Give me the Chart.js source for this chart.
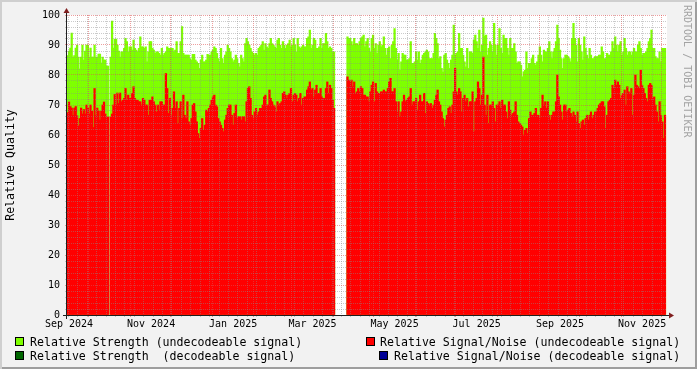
<!DOCTYPE html>
<html>
<head>
<meta charset="utf-8">
<script src="https://cdn.jsdelivr.net/npm/chart.js@4.4.0/dist/chart.umd.min.js"></script>
<style>
  body { margin: 0; background: #f2f2f2; }
  #wrap {
    position: relative; width: 697px; height: 369px; background: #f2f2f2;
    box-shadow: inset 2px 2px 0 #cfcfcf, inset -2px -2px 0 #9e9e9e;
    font-family: 'DejaVu Sans Mono', monospace;
  }
  #chart { position: absolute; left: 0; top: 0; }
  .lg { position: absolute; font-size: 11.6px; line-height: 14px; white-space: pre; color: #000; }
  .sw { position: absolute; width: 7px; height: 7px; border: 1px solid #000; }
  #wm {
    position: absolute; left: 682px; top: 5px; writing-mode: vertical-rl;
    font-size: 10px; line-height: 10px; color: #a3a3a3; white-space: pre;
  }
</style>
</head>
<body>
<div id="wrap">
  <canvas id="chart" width="697" height="369"></canvas>
  <div id="wm">RRDTOOL / TOBI OETIKER</div>
</div>
<script>
// one value per day, day 0 = 15 Sep 2024
const startDay = Date.UTC(2024, 8, 15);
const nDays = 446;

const monthAbbr = ['Jan', 'Feb', 'Mar', 'Apr', 'May', 'Jun', 'Jul', 'Aug', 'Sep', 'Oct', 'Nov', 'Dec'];
const xTickLabels = ['Sep 2024', 'Nov 2024', 'Jan 2025', 'Mar 2025', 'May 2025', 'Jul 2025', 'Sep 2025', 'Nov 2025'];

const seriesNames = [
  'Relative Strength (undecodeable signal)',
  'Relative Signal/Noise (undecodeable signal)',
  'Relative Strength  (decodeable signal)',
  'Relative Signal/Noise (decodeable signal)'
];
const seriesColors = ['#7fff00', '#ff0000', '#006600', '#000096'];

// Relative Strength (undecodeable)
const strength = [
  86.5, 88, 89, 94, 86, 86.5, 89, 90, 86, 82, 86, 90, 85, 88, 90, 90, 86, 89, 86, 86,
  90, 86, 86, 87, 87, 84, 86, 85, 85, 83, 83, null, 86, 98, 89, 92, 92, 90, 88, 86,
  87.7, 87.7, 88.9, 92.2, 91.1, 87.7, 89.4, 89.4, 88.3, 91.6, 88.9, 88.3, 87.7, 88.9, 92.7, 89.4, 89.4, 88.9, 89.4, 84.4,
  87.7, 91.1, 91.1, 88.9, 88.3, 87.2, 87.7, 87.7, 87.2, 86.6, 88.9, 86.6, 87.2, 87.7, 89.4, 88.9, 88.9, 88.9, 88.9, 87.7,
  88.3, 91.1, 87.2, 87.2, 91.1, 96.1, 87.2,
  86.6, 86.6, 86.6, 86.6, 85.5, 85, 86.9, 86.9, 85, 84.4, 83.9, 82.2, 85, 86.6, 84.4, 84.4, 85, 86.9, 86.6, 86.6,
  87.7, 88.3, 89.4, 88.9, 87.2, 85.5, 84.4, 88.9, 85.5, 83.9, 86.6, 87.7, 90, 88.9, 87.7, 85.5, 84.4, 85, 86.6, 85.5,
  83.9, 82.7, 86.6, 85.5, 84.4,
  90.5, 92.2, 91.1, 90, 88.9, 87.7, 87.2, 86.6, 87.2, 86.6, 88.9, 89.4, 90, 91.1, 88.3, 90.5, 89.4, 88.9, 90.5, 92.2,
  90.5, 90, 89.4, 88.9, 91.6, 92.2, 90, 88.9, 91.1, 90, 88.9, 90, 90.5, 91.6, 89.4, 90, 92.2, 90, 87.7, 92.2,
  89.4, 88.9, 89.4, 90, 89.4,
  89.4, 92.2, 92.7, 95, 88.9, 90, 92.2, 91.6, 88.9, 88.9, 89.4, 92.2, 88.9, 90.5, 90.5, 93.9, 91.1, 88.9, 89.4, 88.9,
  87.7, 87.7,
  null, null, null, null, null, null, null, null, null,
  92.7, 92.2, 92.2, 91.1, 90, 92.2, 90.5, 90.5, 90, 91.1, 92.2, 92.7, 93.3,
  89.4, 91.1, 92.2, 88.9, 87.7, 92.2, 93.3, 88.9, 90.5, 87.2, 90, 91.1, 89.4, 90, 92.7, 88.9, 86.6, 88.9, 89.4, 85.5,
  90, 91.1, 95.5, 88.9, 85, 87.2, 81.6, 84.4, 87.2, 86.6, 86.6, 85, 85, 85.5, 91.1, 83.9, 83.9, 84.4, 87.7, 85,
  87.7, 83.9, 85, 86.6, 87.2,
  87.7, 88.3, 87.7, 85.5, 85.5, 85.5, 87.2, 93.9, 92.2, 90.5, 85.5, 86.1, 82.2, 81, 86.6, 87.2, 85, 83.9, 82.2, 85,
  86.6, 96.6, 86.6, 87.2, 87.7, 93.9, 88.9, 88.9, 86.6, 84.4, 82.7, 88.9, 82.2, 87.7, 87.7, 87.2, 91.6, 93.3, 91.1, 88.9,
  95, 87.7, 90, 99, 93,
  93.3, 86.6, 88.9, 91.1, 90, 87.7, 97.2, 90, 86.6, 90, 95.5, 88.9, 87.2, 93.3, 92.2, 92.2, 88.9, 86.6, 92.2, 88.9,
  88.9, 90.5, 87.7, 83.9, 84.4, 84.4, 83.3, 79.4, 81.1, 81.6, 87.7, 82.2, 83.9, 83.9, 85.5, 86.6, 83.9, 83.3, 84.4, 86.6,
  89.4, 86.6, 84.4, 88.3, 87.7,
  87.7, 88.9, 91.1, 87.7, 85.5, 87.7, 88.9, 91.1, 96.6, 92.2, 88.3, 85.5, 82.2, 85.5, 86.6, 86.6, 86.1, 85.5, 84.4, 92.2,
  97.2, 92.2, 90, 84.4, 92.2, 90, 87.7, 85, 92.7, 88.9, 86.6, 85.5, 88.9, 86.6, 85.5, 85.5, 86.1, 86.1, 86.1, 86.6,
  86.6, 89.4, 87.7, 85.5,
  85.5, 87.2, 86.6, 86.6, 87.7, 91.1, 88.9, 92.7, 90, 87.7, 90, 91.1, 86.6, 87.7, 92.2, 88.9, 86.6, 87.7, 87.7, 86.6,
  87.7, 88.9, 87.7, 87.7, 90, 91.1, 88.9, 86.6, 87.2, 87.2, 87.7, 88.9, 91.1, 92.2, 95, 88.9, 88.9, 86.1, 85.5, 85.5,
  87.7, 84.4, 88.9, 88.9, 88.9
];

// Relative Signal/Noise (undecodeable)
const signalNoise = [
  67.5, 71, 69.5, 69, 66.5, 69, 69.5, 66.5, 63, 65.5, 69, 67, 68.5, 67, 70, 69, 67, 70, 68, 62.5,
  75.5, 66.5, 69, 68, 65, 68, 70, 71, 67, 66, 66, null, 66, 67, 70, 73.5, 70, 74, 70.5, 74,
  71.1, 71.6, 72.2, 75.5, 71.6, 73.3, 72.2, 72.2, 73.9, 76.1, 72.2, 71.6, 71.6, 71.1, 71.1, 70, 72.2, 71.6, 70, 70,
  66.6, 71.6, 71.6, 72.7, 71.1, 70, 67.7, 70, 68.3, 71.1, 71.1, 70, 70, 80.5, 75.5, 67.2, 72.2, 66.6, 68.9, 74.4,
  68.9, 71.1, 63.9, 68.9, 71.1, 65.5, 73.3,
  66.6, 65.5, 71.1, 64.4, 63.3, 65.5, 70, 70.5, 67.7, 64.4, 60.5, 58.9, 62.2, 65.5, 61.6, 63.3, 68.3, 67.7, 68.9, 70,
  71.6, 72.7, 73.3, 70, 69.4, 65.5, 64.4, 63.3, 62.2, 61.1, 65, 66.6, 68.9, 70, 70, 66.6, 63.3, 67.2, 70, 65.5,
  66.1, 66.1, 65, 66.1, 66.1,
  64.4, 71.1, 75.5, 76.1, 72.2, 66.6, 65.5, 67.7, 68.9, 66.6, 67.7, 68.9, 68.9, 70, 72.7, 73.3, 70, 70, 75, 72.2,
  71.1, 70, 69.4, 67.7, 71.1, 70, 70.5, 71.1, 73.9, 74.4, 73.3, 72.2, 73.3, 73.9, 75.5, 71.1, 73.3, 73.9, 73.3, 71.1,
  72.2, 73.9, 70, 72.2, 72.7,
  72.7, 75, 76.1, 77.7, 75, 75.5, 72.7, 75, 76.6, 73.9, 73.9, 75.5, 72.7, 72.2, 72.2, 75.5, 77.7, 73.9, 76.6, 75.5,
  71.6, 68.9,
  null, null, null, null, null, null, null, null, null,
  79.4, 78.3, 77.7, 78.3, 76.1, 77.7, 73.9, 74.4, 75.5, 74.4, 76.1, 75.5, 73.3,
  73.3, 72.7, 72.7, 71.1, 74.4, 76.6, 77.7, 71.1, 77.2, 74.4, 73.9, 73.9, 74.4, 74.4, 75, 74.4, 74.4, 75.5, 77.7, 78.9,
  74.4, 74.4, 75.5, 71.1, 67.7, 71.1, 66.1, 67.7, 71.1, 73.3, 71.1, 71.6, 72.2, 72.7, 75.5, 70, 71.1, 71.1, 72.2, 68.3,
  71.1, 73.3, 71.1, 71.1, 73.9,
  67.2, 71.1, 70.5, 70, 70.5, 68.9, 70, 71.6, 73.3, 75, 71.1, 70, 67.7, 65.5, 62.7, 65, 66.6, 68.9, 69.4, 67.2,
  70, 74.4, 82.2, 74.4, 73.3, 75.5, 74.4, 67.7, 72.2, 73.3, 71.1, 72.2, 69.4, 71.1, 71.1, 74.4, 61.1, 71.1, 72.2, 77.7,
  75.5, 70, 73.3, 86, 70,
  66.6, 73.3, 63.9, 70, 70, 71.1, 68.9, 64.4, 70, 70, 71.1, 68.9, 71.6, 70, 70, 67.7, 65.5, 71.1, 68.3, 66.6,
  67.2, 67.7, 71.1, 66.6, 64.4, 63.9, 63.3, 62.7, 60, 61.6, 62.2, 60.5, 65.5, 67.7, 66.6, 66.6, 67.2, 68.9, 66.6, 66.6,
  65.5, 68.9, 73.3, 70, 71.1,
  68.9, 71.1, 66.6, 65, 66.6, 67.7, 67.7, 71.1, 80, 72.7, 70, 67.7, 65, 70, 70, 67.7, 68.3, 68.9, 67.2, 66.1,
  67.7, 66.6, 64.4, 67.7, 63.9, 62.2, 64.4, 65, 63.3, 65.5, 66.6, 65, 66.6, 67.7, 65.5, 66.6, 67.7, 67.7, 68.9, 70,
  70.5, 71.1, 71.1, 69.4,
  62.2, 66.6, 71.1, 71.6, 72.2, 76.6, 75.5, 78.3, 76.6, 77.7, 76.6, 72.2, 73.3, 73.9, 75, 70, 76.1, 74.4, 73.9, 75.5,
  66.6, 73.3, 80, 76.6, 76.1, 75.5, 81.6, 76.6, 75.5, 73.9, 72.2, 71.1, 76.6, 77.2, 76.6, 72.2, 72.7, 70, 67.7, 64.4,
  71.1, 66.6, 64.4, 58.9, 66.6
];

const GRID = 'rgba(140,140,140,0.45)';
const MGRID = 'rgba(222,79,79,0.55)';
const FONT = 'DejaVu Sans Mono';

function dayOf(y, m, d) {
  return (Date.UTC(y, m, d) - startDay) / 86400000;
}

// weekly minor lines (mondays), monthly major lines, labels centred on the month
function buildXTicks() {
  const majors = [];
  for (let y = 2024, m = 9; ; m++) {
    if (m > 11) { m = 0; y++; }
    const d = dayOf(y, m, 1);
    if (d > nDays) break;
    majors.push(d);
  }
  const t = [];
  for (let d = 1; d <= nDays; d += 7) {
    if (!majors.includes(d)) t.push({ value: d, kind: 'minor' });
  }
  majors.forEach(d => t.push({ value: d, kind: 'major' }));
  xTickLabels.forEach(s => {
    const parts = s.split(' ');
    const d = dayOf(+parts[1], monthAbbr.indexOf(parts[0]), 1) + 15.5;
    t.push({ value: d, kind: 'label', text: s });
  });
  return t.sort((a, b) => a.value - b.value);
}

function toPoints(arr) {
  return arr.map((v, i) => ({ x: i + 0.5, y: v }));
}

const rrdFrame = {
  id: 'rrdFrame',
  beforeDraw(chart) {
    const a = chart.chartArea;
    const ctx = chart.ctx;
    ctx.save();
    ctx.fillStyle = '#ffffff';
    ctx.fillRect(a.left, a.top, a.right - a.left, a.bottom - a.top);
    ctx.restore();
  },
  afterDraw(chart) {
    const a = chart.chartArea;
    const ctx = chart.ctx;
    const ax = a.left - 0.5, ay = a.bottom + 0.5;
    ctx.save();
    ctx.strokeStyle = 'rgb(31,31,31)';
    ctx.lineWidth = 1;
    ctx.beginPath();
    ctx.moveTo(a.left - 4, ay);
    ctx.lineTo(a.right + 4, ay);
    ctx.moveTo(ax, a.bottom + 4);
    ctx.lineTo(ax, a.top - 4);
    ctx.stroke();
    ctx.fillStyle = 'rgb(128,31,31)';
    ctx.beginPath();
    ctx.moveTo(a.right + 2, ay - 3);
    ctx.lineTo(a.right + 2, ay + 3);
    ctx.lineTo(a.right + 7, ay);
    ctx.closePath();
    ctx.fill();
    ctx.beginPath();
    ctx.moveTo(ax - 3, a.top - 2);
    ctx.lineTo(ax + 3, a.top - 2);
    ctx.lineTo(ax, a.top - 7);
    ctx.closePath();
    ctx.fill();
    ctx.restore();
  }
};

new Chart(document.getElementById('chart'), {
  type: 'bar',
  data: {
    datasets: [
      {
        label: seriesNames[1],
        data: toPoints(signalNoise),
        backgroundColor: seriesColors[1],
        order: 0
      },
      {
        label: seriesNames[0],
        data: toPoints(strength),
        backgroundColor: seriesColors[0],
        order: 1
      }
    ]
  },
  options: {
    responsive: false,
    animation: false,
    events: [],
    layout: { padding: { left: 0, right: 30, top: 15, bottom: 34 } },
    datasets: { bar: { grouped: false, barThickness: 1.6, borderWidth: 0 } },
    plugins: { legend: { display: false }, tooltip: { enabled: false } },
    scales: {
      x: {
        type: 'linear',
        min: 0,
        max: nDays,
        offset: false,
        afterBuildTicks: scale => { scale.ticks = buildXTicks(); },
        afterFit: scale => { scale.height = 20; },
        grid: {
          z: 1,
          offset: false,
          tickLength: 2,
          color: ctx => ctx.tick.kind === 'major' ? MGRID : (ctx.tick.kind === 'minor' ? GRID : 'rgba(0,0,0,0)')
        },
        border: { display: false, dash: [1, 1] },
        ticks: {
          autoSkip: false,
          maxRotation: 0,
          minRotation: 0,
          padding: 1,
          color: '#000',
          font: { family: FONT, size: 10 },
          callback: (value, index, ticks) => ticks[index].text || ''
        }
      },
      y: {
        min: 0,
        max: 100,
        afterFit: scale => { scale.width = 67; },
        grid: {
          z: 1,
          tickLength: 2,
          color: ctx => ctx.tick.value % 10 === 0 ? MGRID : GRID
        },
        border: { display: false, dash: [1, 1] },
        ticks: {
          stepSize: 2,
          autoSkip: false,
          padding: 5,
          color: '#000',
          font: { family: FONT, size: 10 },
          callback: v => v % 10 === 0 ? v : ''
        },
        title: {
          display: true,
          text: 'Relative Quality',
          color: '#000',
          font: { family: FONT, size: 11.6 },
          padding: { top: 4, bottom: 0 }
        }
      }
    }
  },
  plugins: [rrdFrame]
});

// legend, two columns like rrdtool
const wrap = document.getElementById('wrap');
const legendPos = [
  { sw: 15, tx: 30, top: 335 },
  { sw: 366, tx: 380, top: 335 },
  { sw: 15, tx: 30, top: 348.5 },
  { sw: 379, tx: 394, top: 348.5 }
];
seriesNames.forEach((name, i) => {
  const p = legendPos[i];
  const sw = document.createElement('div');
  sw.className = 'sw';
  sw.style.left = p.sw + 'px';
  sw.style.top = (p.top + 2) + 'px';
  sw.style.background = seriesColors[i];
  const tx = document.createElement('div');
  tx.className = 'lg';
  tx.style.left = p.tx + 'px';
  tx.style.top = p.top + 'px';
  tx.textContent = name;
  wrap.appendChild(sw);
  wrap.appendChild(tx);
});
</script>
</body>
</html>
